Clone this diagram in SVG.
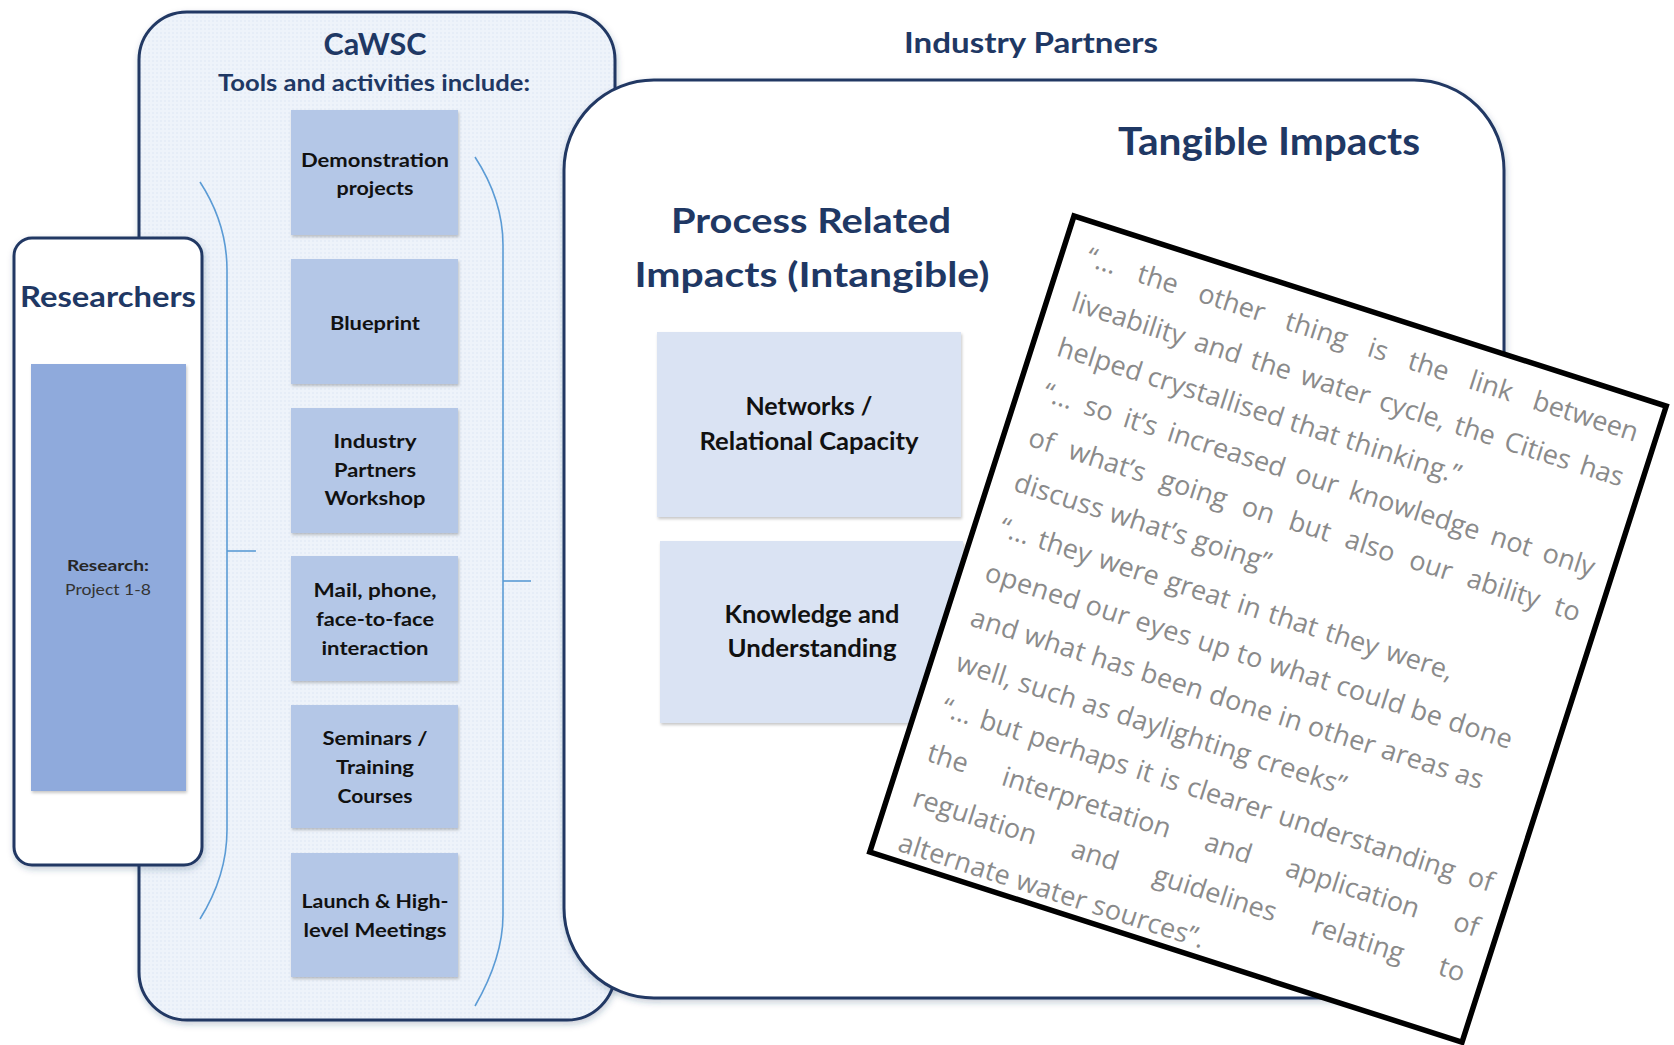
<svg xmlns="http://www.w3.org/2000/svg" width="1674" height="1045" viewBox="0 0 1674 1045">
<defs>
<style>
.title{font-family:Lato,'Liberation Sans',sans-serif;font-weight:700;fill:#1f3864}
.lbl{font-family:Lato,'Liberation Sans',sans-serif;font-weight:700;fill:#111;font-size:19px;text-anchor:middle}
.lbl2{font-family:Lato,'Liberation Sans',sans-serif;font-weight:700;fill:#111;font-size:24px;text-anchor:middle}
.q{font-family:'Open Sans','DejaVu Sans',sans-serif;font-size:27px;fill:#8a8a8a}
.frame{stroke:#203864;stroke-width:3}
.tool{fill:#b4c7e7}
.imp{fill:#dae3f3}
.br{fill:none;stroke:#5b9bd5;stroke-width:1.6}
</style>
<filter id="sh" x="-10%" y="-10%" width="130%" height="130%"><feDropShadow dx="1" dy="2" stdDeviation="1.5" flood-color="#000" flood-opacity="0.22"/></filter>
<filter id="sh2" x="-5%" y="-5%" width="112%" height="112%"><feDropShadow dx="1" dy="3" stdDeviation="3" flood-color="#1f3864" flood-opacity="0.25"/></filter>
<pattern id="dots" width="4" height="4" patternUnits="userSpaceOnUse"><rect width="4" height="4" fill="#eef3fa"/><circle cx="1" cy="1" r="0.7" fill="#d9e4f2"/></pattern>
</defs>
<rect width="1674" height="1045" fill="#fff"/>

<g id="cawsc">
<rect x="139" y="12" width="476" height="1008" rx="48" fill="url(#dots)" class="frame" filter="url(#sh2)"/>
<text class="title" x="375" y="55" font-size="30" text-anchor="middle" textLength="103" lengthAdjust="spacingAndGlyphs">CaWSC</text>
<text class="title" x="374" y="91" font-size="23" text-anchor="middle" textLength="312" lengthAdjust="spacingAndGlyphs">Tools and activities include:</text>
</g>

<g id="connectors">
<path class="br" d="M200,182 C215,205 227,235 227,270 L227,830 C227,865 215,895 200,919"/>
<path class="br" d="M227,551 H256"/>
<path class="br" d="M475,157 C490,180 503,210 503,245 L503,915 C503,950 490,980 475,1006"/>
<path class="br" d="M503,581 H531"/>
</g>

<g id="tool-demo">
<rect x="291" y="110" width="167" height="125" class="tool" filter="url(#sh)"/>
<text class="lbl" x="375" y="167" textLength="148" lengthAdjust="spacingAndGlyphs">Demonstration</text>
<text class="lbl" x="375" y="195" textLength="77" lengthAdjust="spacingAndGlyphs">projects</text>
</g>
<g id="tool-blueprint">
<rect x="291" y="259" width="167" height="125" class="tool" filter="url(#sh)"/>
<text class="lbl" x="375" y="330" textLength="90" lengthAdjust="spacingAndGlyphs">Blueprint</text>
</g>
<g id="tool-workshop">
<rect x="291" y="408" width="167" height="125" class="tool" filter="url(#sh)"/>
<text class="lbl" x="375" y="448" textLength="83" lengthAdjust="spacingAndGlyphs">Industry</text>
<text class="lbl" x="375" y="477" textLength="82" lengthAdjust="spacingAndGlyphs">Partners</text>
<text class="lbl" x="375" y="505" textLength="101" lengthAdjust="spacingAndGlyphs">Workshop</text>
</g>
<g id="tool-mail">
<rect x="291" y="556" width="167" height="125" class="tool" filter="url(#sh)"/>
<text class="lbl" x="375" y="597" textLength="123" lengthAdjust="spacingAndGlyphs">Mail, phone,</text>
<text class="lbl" x="375" y="626" textLength="118" lengthAdjust="spacingAndGlyphs">face-to-face</text>
<text class="lbl" x="375" y="655" textLength="107" lengthAdjust="spacingAndGlyphs">interaction</text>
</g>
<g id="tool-seminars">
<rect x="291" y="705" width="167" height="123" class="tool" filter="url(#sh)"/>
<text class="lbl" x="375" y="745" textLength="105" lengthAdjust="spacingAndGlyphs">Seminars /</text>
<text class="lbl" x="375" y="774" textLength="78" lengthAdjust="spacingAndGlyphs">Training</text>
<text class="lbl" x="375" y="803" textLength="75" lengthAdjust="spacingAndGlyphs">Courses</text>
</g>
<g id="tool-launch">
<rect x="291" y="853" width="167" height="124" class="tool" filter="url(#sh)"/>
<text class="lbl" x="375" y="908" textLength="147" lengthAdjust="spacingAndGlyphs">Launch &amp; High-</text>
<text class="lbl" x="375" y="937" textLength="143" lengthAdjust="spacingAndGlyphs">level Meetings</text>
</g>

<g id="researchers">
<rect x="14" y="238" width="188" height="627" rx="18" fill="#fff" class="frame" filter="url(#sh2)"/>
<text class="title" x="108" y="307" font-size="29" text-anchor="middle" textLength="176" lengthAdjust="spacingAndGlyphs">Researchers</text>
<rect x="31" y="364" width="155" height="427" fill="#8faadc" filter="url(#sh)"/>
<text x="108" y="571" font-family="Lato,'Liberation Sans',sans-serif" font-weight="700" font-size="16" fill="#262626" text-anchor="middle" textLength="82" lengthAdjust="spacingAndGlyphs">Research:</text>
<text x="108" y="595" font-family="Lato,'Liberation Sans',sans-serif" font-size="16" fill="#333" text-anchor="middle" textLength="86" lengthAdjust="spacingAndGlyphs">Project 1-8</text>
</g>

<g id="industry-partners">
<text class="title" x="1031" y="53" font-size="28" text-anchor="middle" textLength="254" lengthAdjust="spacingAndGlyphs">Industry Partners</text>
<path d="M654,80 H1414 A90,90 0 0 1 1504,170 V878 A120,120 0 0 1 1384,998 H654 A90,90 0 0 1 564,908 V170 A90,90 0 0 1 654,80 Z" fill="#fff" class="frame" filter="url(#sh2)"/>
<text class="title" x="1269" y="155" font-size="38" text-anchor="middle" textLength="302" lengthAdjust="spacingAndGlyphs">Tangible Impacts</text>
<text class="title" x="811" y="233" font-size="35" text-anchor="middle" textLength="280" lengthAdjust="spacingAndGlyphs">Process Related</text>
<text class="title" x="812" y="287" font-size="35" text-anchor="middle" textLength="355" lengthAdjust="spacingAndGlyphs">Impacts (Intangible)</text>
</g>

<g id="impact-networks">
<rect x="657" y="332" width="304" height="185" class="imp" filter="url(#sh)"/>
<text class="lbl2" x="809" y="415" textLength="127" lengthAdjust="spacingAndGlyphs">Networks /</text>
<text class="lbl2" x="809" y="450" textLength="219" lengthAdjust="spacingAndGlyphs">Relational Capacity</text>
</g>
<g id="impact-knowledge">
<rect x="660" y="541" width="303" height="182" class="imp" filter="url(#sh)"/>
<text class="lbl2" x="812" y="623" textLength="175" lengthAdjust="spacingAndGlyphs">Knowledge and</text>
<text class="lbl2" x="812" y="657" textLength="169" lengthAdjust="spacingAndGlyphs">Understanding</text>
</g>

<g id="quotes" transform="translate(1074,216) rotate(17.8)">
<rect x="0" y="0" width="622" height="668" fill="#fff" stroke="#000" stroke-width="5.5"/>
<text class="q" y="43.5"><tspan x="25">“…</tspan><tspan x="78.7">the</tspan><tspan x="142.6">other</tspan><tspan x="233.8">thing</tspan><tspan x="320.7">is</tspan><tspan x="363">the</tspan><tspan x="426.9">link</tspan><tspan x="493.9">between</tspan></text>
<text class="q" y="90.8"><tspan x="25">liveability</tspan><tspan x="153.6">and</tspan><tspan x="212.8">the</tspan><tspan x="265.1">water</tspan><tspan x="347.9">cycle,</tspan><tspan x="426.8">the</tspan><tspan x="479.2">Cities</tspan><tspan x="558.5">has</tspan></text>
<text class="q" x="25" y="138.1" textLength="422" lengthAdjust="spacing">helped crystallised that thinking.”</text>
<text class="q" y="185.4"><tspan x="25">“…</tspan><tspan x="68.3">so</tspan><tspan x="109.8">it’s</tspan><tspan x="156">increased</tspan><tspan x="290.2">our</tspan><tspan x="346.3">knowledge</tspan><tspan x="495">not</tspan><tspan x="549.7">only</tspan></text>
<text class="q" y="232.7"><tspan x="25">of</tspan><tspan x="67">what’s</tspan><tspan x="163.2">going</tspan><tspan x="249">on</tspan><tspan x="298.4">but</tspan><tspan x="357.6">also</tspan><tspan x="425.1">our</tspan><tspan x="485.5">ability</tspan><tspan x="577.1">to</tspan></text>
<text class="q" x="25" y="280" textLength="268" lengthAdjust="spacing">discuss what’s going”</text>
<text class="q" y="327.3"><tspan x="25">“…</tspan><tspan x="65.1">they</tspan><tspan x="128.9">were</tspan><tspan x="200.2">great</tspan><tspan x="274.7">in</tspan><tspan x="307.1">that</tspan><tspan x="366.8">they</tspan><tspan x="430.6">were,</tspan></text>
<text class="q" x="25" y="374.6" textLength="552" lengthAdjust="spacing">opened our eyes up to what could be done</text>
<text class="q" x="25" y="421.9" textLength="537" lengthAdjust="spacing">and what has been done in other areas as</text>
<text class="q" x="25" y="469.2" textLength="408" lengthAdjust="spacing">well, such as daylighting creeks”</text>
<text class="q" y="516.5"><tspan x="25">“…</tspan><tspan x="64.9">but</tspan><tspan x="116.5">perhaps</tspan><tspan x="229">it</tspan><tspan x="254.2">is</tspan><tspan x="282.7">clearer</tspan><tspan x="378.5">understanding</tspan><tspan x="577.5">of</tspan></text>
<text class="q" y="563.8"><tspan x="25">the</tspan><tspan x="103.5">interpretation</tspan><tspan x="316.2">and</tspan><tspan x="401.5">application</tspan><tspan x="577.5">of</tspan></text>
<text class="q" y="611.1"><tspan x="25">regulation</tspan><tspan x="191.5">and</tspan><tspan x="277.5">guidelines</tspan><tspan x="443.6">relating</tspan><tspan x="577.2">to</tspan></text>
<text class="q" x="25" y="658.4" textLength="320" lengthAdjust="spacing">alternate water sources”.</text>
</g>
</svg>
